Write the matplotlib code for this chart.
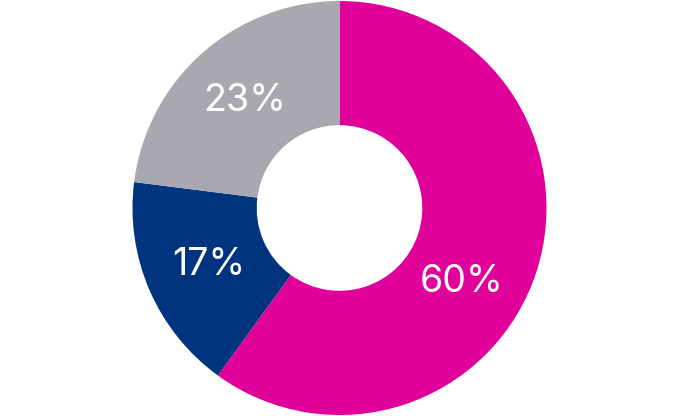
import numpy as np
import matplotlib
matplotlib.use("Agg")
from matplotlib import pyplot as plt

shares = [60, 17, 23]
labels = ["60%", "17%", "23%"]
colors = ["#E0009A", "#00347F", "#A8A9B0"]
# nudge for the label of each wedge (degrees), the big one sits lower
label_shift = [-13, 0, 0]

fig = plt.figure(figsize=(6.8, 4.16), dpi=100)
ax = fig.add_axes([0, 0, 1, 1])

cx, cy, r = 339.5, 208, 207
wedges, _ = ax.pie(
    shares,
    colors=colors,
    startangle=90,
    counterclock=False,
    center=(cx, cy),
    radius=r,
    wedgeprops=dict(width=r * 0.6, linewidth=0),
)

for w, lab, shift in zip(wedges, labels, label_shift):
    mid = np.deg2rad((w.theta1 + w.theta2) / 2 + shift)
    ax.text(
        cx + 0.69 * r * np.cos(mid),
        cy + 0.69 * r * np.sin(mid),
        lab,
        color="white",
        fontsize=27,
        family="Inter",
        weight="normal",
        ha="center",
        va="center",
    )

ax.set_xlim(0, 680)
ax.set_ylim(0, 416)
ax.set_aspect("equal")
ax.axis("off")
fig.savefig("out.png", dpi=100)
